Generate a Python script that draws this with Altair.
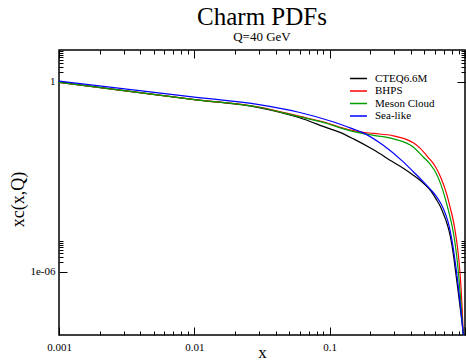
import altair as alt
import pandas as pd

# ---- data ----
series_names = ["CTEQ6.6M", "BHPS", "Meson Cloud", "Sea-like"]
series_colors = ["#000000", "#ff0000", "#00a000", "#0000ff"]

x_cteq = [0.001, 0.01, 0.0301, 0.0592, 0.0984, 0.1165, 0.150, 0.211, 0.296, 0.350, 0.4147,
          0.4913, 0.5530, 0.6119, 0.6549, 0.6891, 0.7251, 0.7626, 0.7956, 0.8232, 0.8486,
          0.8808, 0.9189, 0.9716, 0.983]
y_cteq = [0.951, 0.272, 0.152, 0.0739, 0.0334, 0.0259, 0.0156, 0.00705, 0.00285, 0.00185,
          0.001115, 0.000625, 0.000377, 0.000196, 0.0001183, 7.13e-5, 4.00e-5, 1.94e-5,
          8.14e-6, 3.18e-6, 1.15e-6, 3.38e-7, 7.94e-8, 1.05e-8, 6e-9]

x_bhps = [0.001, 0.01, 0.0301, 0.0592, 0.0984, 0.1165, 0.150, 0.172, 0.211, 0.296, 0.4147,
          0.4669, 0.5344, 0.6017, 0.6661, 0.7251, 0.7757, 0.8232, 0.8588, 0.8883, 0.9142,
          0.9345, 0.9537, 0.9716, 0.983]
y_bhps = [0.951, 0.272, 0.158, 0.0813, 0.0479, 0.0377, 0.0283, 0.0255, 0.0232, 0.0194, 0.0117,
          0.00785, 0.00409, 0.00214, 0.000897, 0.000326, 0.000110, 3.72e-5, 1.26e-5, 4.24e-6,
          1.15e-6, 3.14e-7, 6.39e-8, 1.05e-8, 6e-9]

x_meson = [0.001, 0.01, 0.0301, 0.0592, 0.0984, 0.1165, 0.150, 0.211, 0.296, 0.4147, 0.4913,
           0.5530, 0.6119, 0.6661, 0.7129, 0.7626, 0.8024, 0.8372, 0.8660, 0.8929, 0.9189,
           0.9425, 0.9716, 0.983]
y_meson = [0.951, 0.272, 0.156, 0.0784, 0.0462, 0.0359, 0.0265, 0.0201, 0.0156, 0.00863,
           0.00419, 0.00247, 0.001288, 0.000540, 0.000211, 7.13e-5, 2.78e-5, 1.01e-5, 3.41e-6,
           1e-6, 2.35e-7, 5.53e-8, 1.05e-8, 6e-9]

x_sea = [0.001, 0.01, 0.0301, 0.0592, 0.0984, 0.1165, 0.150, 0.172, 0.249, 0.350, 0.4147,
         0.4913, 0.5530, 0.6119, 0.6661, 0.7129, 0.7499, 0.7823, 0.8092, 0.8344, 0.8588,
         0.8853, 0.9142, 0.9425, 0.9716, 0.983]
y_sea = [1.037, 0.326, 0.189, 0.1085, 0.0595, 0.0469, 0.0317, 0.0255, 0.00976, 0.00292,
         0.001435, 0.000696, 0.000405, 0.000244, 0.0001367, 7.13e-5, 3.72e-5, 1.68e-5,
         7.57e-6, 3.18e-6, 1.29e-6, 4.51e-7, 1.32e-7, 3.85e-8, 1.05e-8, 6e-9]

x_major = [0.001, 0.01, 0.1, 1]
x_minor = [0.002, 0.003, 0.004, 0.005, 0.006, 0.007, 0.008, 0.009,
           0.02, 0.03, 0.04, 0.05, 0.06, 0.07, 0.08, 0.09,
           0.2, 0.3, 0.4, 0.5, 0.6, 0.7, 0.8, 0.9]
y_major = [1e-6, 1]
y_minor = [2e-6, 3e-6, 4e-6, 5e-6, 6e-6, 7e-6, 8e-6, 9e-6,
           2, 3, 4, 5, 6, 7, 8, 9]

frames = []
for name, xs, ys in [(series_names[0], x_cteq, y_cteq), (series_names[1], x_bhps, y_bhps),
                     (series_names[2], x_meson, y_meson), (series_names[3], x_sea, y_sea)]:
    frames.append(pd.DataFrame({"x": xs, "y": ys, "series": name}))
df = pd.concat(frames, ignore_index=True)
df["order"] = df["series"].map({n: i for i, n in enumerate(series_names)})

FONT = "Liberation Serif"
xscale = alt.Scale(type="log", domain=[0.001, 1], nice=False)
yscale = alt.Scale(type="log", domain=[1e-8, 10], nice=False)

MAJ = 8
MIN = 4

def ax(orient, values, size, labels=False, **kw):
    return alt.Axis(orient=orient, values=values, tickSize=size, offset=-size,
                    domain=False, grid=False, labels=labels, tickColor="black",
                    tickWidth=1, title=None, **kw)

x_main = alt.Axis(orient="bottom", values=x_major, tickSize=MAJ, offset=-MAJ, domain=False,
                  grid=False, tickColor="black", tickWidth=1, labelFlush=False,
                  labelOverlap=False, labelFont=FONT, labelFontSize=11, labelColor="black",
                  labelPadding=6, labelExpr="datum.value < 0.5 ? format(datum.value, '~g') : ''",
                  title="x", titleFont=FONT, titleFontSize=17, titleFontWeight="normal",
                  titleColor="black", titleBaseline="alphabetic", titleY=30)
y_main = alt.Axis(orient="left", values=y_major, tickSize=MAJ, offset=-MAJ, domain=False,
                  grid=False, tickColor="black", tickWidth=1, labelFlush=False,
                  labelOverlap=False, labelFont=FONT, labelFontSize=11, labelColor="black",
                  labelPadding=4, labelExpr="datum.value > 0.5 ? '1' : '1e-06'",
                  title="xc(x,Q)", titleFont=FONT, titleFontSize=18, titleFontWeight="normal",
                  titleColor="black", titleBaseline="alphabetic", titleAngle=270,
                  titleX=-44, titleY=149, titleAlign="center")

lines = alt.Chart(df).mark_line(strokeWidth=1.2, interpolate="monotone", clip=True).encode(
    x=alt.X("x:Q", scale=xscale, axis=x_main),
    y=alt.Y("y:Q", scale=yscale, axis=y_main),
    color=alt.Color("series:N", scale=alt.Scale(domain=series_names, range=series_colors),
                    sort=series_names,
                    legend=alt.Legend(orient="none", legendX=290, legendY=23, title=None,
                                      symbolType="stroke", symbolSize=289, symbolStrokeWidth=1.3,
                                      labelFont=FONT, labelFontSize=11, labelColor="black",
                                      labelOffset=7, padding=0, rowPadding=0.5, clipHeight=11)),
    order="order:Q",
)

def ghost(xaxis, yaxis):
    return alt.Chart(df).mark_line(strokeOpacity=0, clip=True).encode(
        x=alt.X("x:Q", scale=xscale, axis=xaxis),
        y=alt.Y("y:Q", scale=yscale, axis=yaxis),
        detail="series:N",
    )

l2 = ghost(ax("bottom", x_minor, MIN), ax("left", y_minor, MIN))
l3 = ghost(ax("top", x_major, MAJ), ax("right", y_major, MAJ))
l4 = ghost(ax("top", x_minor, MIN), ax("right", y_minor, MIN))

chart = alt.layer(lines, l2, l3, l4).resolve_axis(
    x="independent", y="independent"
).properties(
    width=406, height=285,
    autosize=alt.AutoSizeParams(type="none"),
    padding={"left": 59, "top": 50, "right": 1, "bottom": 26},
    background="white",
    title=alt.TitleParams(text="Charm PDFs", subtitle="Q=40 GeV", font=FONT, fontSize=25,
                          fontWeight="normal", color="black", subtitleFont=FONT,
                          subtitleFontSize=13, subtitleColor="black", anchor="middle",
                          frame="group", offset=6, subtitlePadding=1),
).configure_view(stroke="black", strokeWidth=1.5)

chart.save("out.html", embed_options={"renderer": "svg", "actions": False})
